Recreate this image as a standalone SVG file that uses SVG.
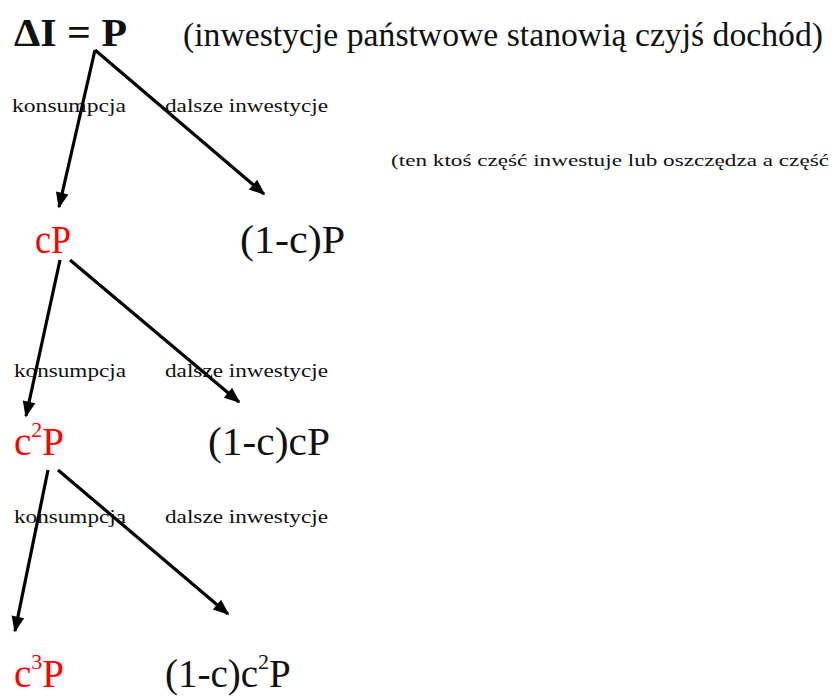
<svg xmlns="http://www.w3.org/2000/svg" width="838" height="698" viewBox="0 0 838 698">
<defs>
<style>
.t{font-family:"Liberation Serif","Times New Roman","DejaVu Serif",serif;fill:#111}
.big{font-size:39px}
.red{fill:#ff0000}
.lbl{font-size:18px}
.ar{stroke:#000;stroke-width:3.2;fill:none;marker-end:url(#ah)}
</style>
<marker id="ah" viewBox="0 0 10 10" refX="9" refY="5" markerWidth="5.5" markerHeight="5" orient="auto" markerUnits="strokeWidth">
<path d="M0,1 L10,5 L0,9 Z" fill="#000"/>
</marker>
</defs>
<rect width="838" height="698" fill="#fff"/>
<g id="title">
<text class="t" x="14" y="46" font-size="41" font-weight="bold" textLength="113" lengthAdjust="spacingAndGlyphs">ΔI = P</text>
<text class="t" x="183" y="46" font-size="33" textLength="640" lengthAdjust="spacingAndGlyphs">(inwestycje państwowe stanowią czyjś dochód)</text>
</g>
<g id="note">
<text class="t" x="391" y="166" font-size="17" textLength="438" lengthAdjust="spacingAndGlyphs">(ten ktoś część inwestuje lub oszczędza a część</text>
</g>
<g id="labels">
<text class="t lbl" x="12" y="112" textLength="114" lengthAdjust="spacingAndGlyphs">konsumpcja</text>
<text class="t lbl" x="165" y="112" textLength="163" lengthAdjust="spacingAndGlyphs">dalsze inwestycje</text>
<text class="t lbl" x="14" y="377" textLength="112" lengthAdjust="spacingAndGlyphs">konsumpcja</text>
<text class="t lbl" x="165" y="377" textLength="163" lengthAdjust="spacingAndGlyphs">dalsze inwestycje</text>
<text class="t lbl" x="14" y="523" textLength="112" lengthAdjust="spacingAndGlyphs">konsumpcja</text>
<text class="t lbl" x="165" y="523" textLength="163" lengthAdjust="spacingAndGlyphs">dalsze inwestycje</text>
</g>
<g id="cP"><text class="t big red" x="35" y="253" textLength="36" lengthAdjust="spacingAndGlyphs">cP</text></g>
<g id="n1cP"><text class="t big" x="240" y="253" textLength="105" lengthAdjust="spacingAndGlyphs">(1-c)P</text></g>
<g id="c2P"><text class="t big red" x="14" y="455">c<tspan font-size="22" dy="-18">2</tspan><tspan dy="18">P</tspan></text></g>
<g id="n1ccP"><text class="t big" x="208" y="455" textLength="122" lengthAdjust="spacingAndGlyphs">(1-c)cP</text></g>
<g id="c3P"><text class="t big red" x="14" y="687">c<tspan font-size="22" dy="-18">3</tspan><tspan dy="18">P</tspan></text></g>
<g id="n1cc2P"><text class="t big" x="165" y="687">(1-c)c<tspan font-size="22" dy="-18">2</tspan><tspan dy="18">P</tspan></text></g>
<g id="connectors">
<line class="ar" x1="95" y1="50" x2="59" y2="207"/>
<line class="ar" x1="95" y1="50" x2="264" y2="194"/>
<line class="ar" x1="60" y1="260" x2="26" y2="416"/>
<line class="ar" x1="70" y1="260" x2="239" y2="402"/>
<line class="ar" x1="48" y1="470" x2="15" y2="631"/>
<line class="ar" x1="58" y1="470" x2="228" y2="614"/>
</g>
</svg>
